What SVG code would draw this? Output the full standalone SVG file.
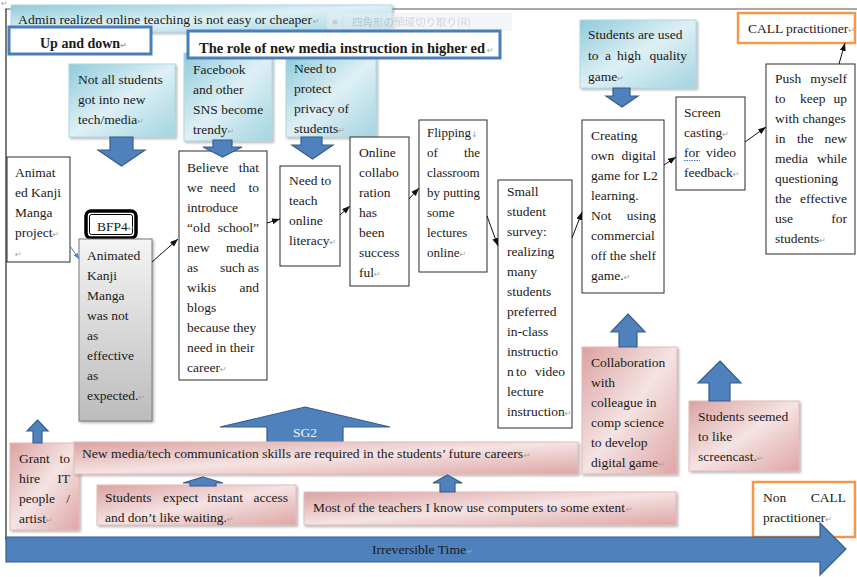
<svg xmlns="http://www.w3.org/2000/svg" width="857" height="577" viewBox="0 0 857 577">
  <defs>
    <linearGradient id="gBlue" x1="0" y1="0" x2="1" y2="1">
      <stop offset="0" stop-color="#8fcbdb"/>
      <stop offset="0.5" stop-color="#def0f5"/>
      <stop offset="1" stop-color="#a3d4e1"/>
    </linearGradient>
    <linearGradient id="gPink" x1="0" y1="0" x2="1" y2="1">
      <stop offset="0" stop-color="#dba2a1"/>
      <stop offset="0.5" stop-color="#f5e3e3"/>
      <stop offset="1" stop-color="#dea6a5"/>
    </linearGradient>
    <linearGradient id="gGray" x1="0" y1="0" x2="0" y2="1">
      <stop offset="0" stop-color="#f4f4f4"/>
      <stop offset="1" stop-color="#bcbcbc"/>
    </linearGradient>
    <filter id="shadow" x="-10%" y="-10%" width="130%" height="130%">
      <feDropShadow dx="1.5" dy="1.5" stdDeviation="1" flood-color="#777" flood-opacity="0.55"/>
    </filter>
    <marker id="ah" viewBox="0 0 8 6" refX="8" refY="3" markerWidth="8" markerHeight="6" markerUnits="userSpaceOnUse" orient="auto">
      <path d="M0,0 L8,3 L0,6 z" fill="#111"/>
    </marker>
    <marker id="ahBlue" viewBox="0 0 8 6" refX="8" refY="3" markerWidth="6" markerHeight="5" markerUnits="userSpaceOnUse" orient="auto">
      <path d="M0,0 L8,3 L0,6 z" fill="#4f81bd"/>
    </marker>
  </defs>
  <style>
    .t { font-family: "Liberation Serif", "DejaVu Serif", serif; font-size: 13.5px; fill: #1a1a1a; }
    .s { font-size: 13px; }
    .b { font-weight: bold; font-size: 14px; }
    .e { text-anchor: end; }
    .pm { font-family: "DejaVu Sans", sans-serif; font-size: 8px; fill: #a0a0a0; }
    .box { fill: #fff; stroke: #2b2b2b; stroke-width: 1; }
    .blue { fill: url(#gBlue); stroke: #b0dae6; stroke-width: 1; filter: url(#shadow); }
    .pink { fill: url(#gPink); stroke: #e8bcbb; stroke-width: 1; filter: url(#shadow); }
    .gray { fill: url(#gGray); stroke: #7a7a7a; stroke-width: 1; filter: url(#shadow); }
    .head { fill: #fff; stroke: #4a7ebb; stroke-width: 3; }
    .orange { fill: #fff; stroke: #f79646; stroke-width: 2.5; }
    .arr { fill: #4f81bd; stroke: #385d8a; stroke-width: 1.2; }
    .con { stroke: #111; stroke-width: 1; fill: none; marker-end: url(#ah); }
  </style>

  <!-- page frame -->
  <g id="frame">
    <line x1="5" y1="9" x2="857" y2="9" stroke="#555" stroke-width="1"/>
    <line x1="6" y1="9" x2="6" y2="540" stroke="#222" stroke-width="1.2"/>
    <text x="1" y="6" class="pm">↵</text>
  </g>

  <!-- banner across the top -->
  <g id="admin">
    <rect x="11" y="5" width="381" height="27" class="blue"/>
    <text x="18" y="24" class="t s" textLength="294" lengthAdjust="spacingAndGlyphs">Admin realized online teaching is not easy or cheaper</text>
    <text x="313" y="24" class="pm">↵</text>
  </g>

  <!-- faint menu ghost -->
  <g id="menu-ghost" opacity="0.55">
    <rect x="327" y="13" width="185" height="18" fill="#eaf0f5"/>
    <line x1="343" y1="14" x2="343" y2="30" stroke="#d8dee4"/>
    <circle cx="335" cy="22" r="2.5" fill="#b9c1c9"/>
    <text x="352" y="26" font-family="'Noto Sans CJK JP', sans-serif" font-size="10.5" fill="#aab2ba">四角形の領域切り取り(R)</text>
  </g>

  <g id="up-and-down">
    <rect x="9" y="27" width="142" height="27" class="head"/>
    <text x="40" y="48" class="t b">Up and down<tspan class="pm">↵</tspan></text>
  </g>

  <!-- light blue cause boxes -->
  <g id="not-all-students">
    <rect x="69" y="64" width="106" height="73" class="blue"/>
    <text x="78" y="84" class="t">Not all students</text>
    <text x="78" y="104" class="t">got into new</text>
    <text x="78" y="124" class="t">tech/media<tspan class="pm">↵</tspan></text>
  </g>

  <g id="facebook">
    <rect x="184" y="53" width="88" height="88" class="blue"/>
    <text x="193" y="74" class="t">Facebook</text>
    <text x="193" y="94" class="t">and other</text>
    <text x="193" y="114" class="t">SNS become</text>
    <text x="193" y="134" class="t">trendy<tspan class="pm">↵</tspan></text>
  </g>

  <g id="privacy">
    <rect x="286" y="57" width="90" height="80" class="blue"/>
    <text x="294" y="73" class="t">Need to</text>
    <text x="294" y="93" class="t">protect</text>
    <text x="294" y="113" class="t">privacy of</text>
    <text x="294" y="133" class="t">students<tspan class="pm">↵</tspan></text>
  </g>

  <g id="role-header">
    <rect x="188" y="31" width="312" height="27" class="head"/>
    <text x="199" y="53" class="t b" textLength="286" lengthAdjust="spacingAndGlyphs">The role of new media instruction in higher ed</text>
    <text x="487" y="53" class="pm">↵</text>
  </g>

  <g id="high-quality-game">
    <rect x="580" y="20" width="116" height="68" class="blue"/>
    <text x="588" y="39" class="t">Students are used</text>
    <text x="588" y="60" class="t">to</text>
    <text x="605" y="60" class="t">a</text>
    <text x="617" y="60" class="t">high</text>
    <text x="687" y="60" class="t e">quality</text>
    <text x="588" y="81" class="t">game<tspan class="pm">↵</tspan></text>
  </g>

  <g id="call-practitioner">
    <rect x="738" y="13" width="117" height="30" class="orange"/>
    <text x="748" y="33" class="t">CALL practitioner<tspan class="pm">↵</tspan></text>
  </g>

  <!-- timeline of practice boxes -->
  <g id="kanji-project">
    <rect x="7" y="157" width="63" height="105" class="box"/>
    <text x="15" y="177" class="t">Animat</text>
    <text x="15" y="197" class="t">ed Kanji</text>
    <text x="15" y="217" class="t">Manga</text>
    <text x="15" y="237" class="t">project<tspan class="pm">↵</tspan></text>
    <text x="15" y="257" class="pm">↵</text>
  </g>

  <g id="bfp4">
    <rect x="86" y="211" width="50" height="27" rx="5" fill="#fff" stroke="#000" stroke-width="3.5"/>
    <rect x="89.5" y="214.5" width="43" height="20" rx="2" fill="none" stroke="#000" stroke-width="1"/>
    <text x="97" y="231" class="t">BFP4<tspan class="pm">↵</tspan></text>
  </g>

  <g id="kanji-result">
    <rect x="79" y="239" width="73" height="182" class="gray"/>
    <text x="87" y="260" class="t">Animated</text>
    <text x="87" y="280" class="t">Kanji</text>
    <text x="87" y="300" class="t">Manga</text>
    <text x="87" y="320" class="t">was not</text>
    <text x="87" y="340" class="t">as</text>
    <text x="87" y="360" class="t">effective</text>
    <text x="87" y="380" class="t">as</text>
    <text x="87" y="400" class="t">expected.<tspan class="pm">↵</tspan></text>
  </g>

  <g id="old-school-media">
    <rect x="179" y="151" width="88" height="229" class="box"/>
    <text x="187" y="172" class="t">Believe</text>
    <text x="259" y="172" class="t e">that</text>
    <text x="187" y="192" class="t">we</text>
    <text x="210" y="192" class="t">need</text>
    <text x="259" y="192" class="t e">to</text>
    <text x="187" y="212" class="t">introduce</text>
    <text x="187" y="232" class="t">“old</text>
    <text x="259" y="232" class="t e">school”</text>
    <text x="187" y="252" class="t">new</text>
    <text x="259" y="252" class="t e">media</text>
    <text x="187" y="272" class="t">as</text>
    <text x="220" y="272" class="t">such</text>
    <text x="259" y="272" class="t e">as</text>
    <text x="187" y="292" class="t">wikis</text>
    <text x="259" y="292" class="t e">and</text>
    <text x="187" y="312" class="t">blogs</text>
    <text x="187" y="332" class="t">because they</text>
    <text x="187" y="352" class="t">need in their</text>
    <text x="187" y="372" class="t">career<tspan class="pm">↵</tspan></text>
  </g>

  <g id="online-literacy">
    <rect x="280" y="166" width="60" height="100" class="box"/>
    <text x="289" y="185" class="t">Need to</text>
    <text x="289" y="205" class="t">teach</text>
    <text x="289" y="225" class="t">online</text>
    <text x="289" y="245" class="t">literacy<tspan class="pm">↵</tspan></text>
  </g>

  <g id="online-collaboration">
    <rect x="350" y="137" width="59" height="149" class="box"/>
    <text x="359" y="157" class="t">Online</text>
    <text x="359" y="177" class="t">collabo</text>
    <text x="359" y="197" class="t">ration</text>
    <text x="359" y="217" class="t">has</text>
    <text x="359" y="237" class="t">been</text>
    <text x="359" y="257" class="t">success</text>
    <text x="359" y="277" class="t">ful<tspan class="pm">↵</tspan></text>
  </g>

  <g id="flipping">
    <rect x="419" y="120" width="68" height="152" class="box"/>
    <text x="427" y="137" class="t s">Flipping<tspan class="pm">↓</tspan></text>
    <text x="427" y="157" class="t s">of</text>
    <text x="480" y="157" class="t s e">the</text>
    <text x="427" y="177" class="t s">classroom</text>
    <text x="427" y="197" class="t s">by putting</text>
    <text x="427" y="217" class="t s">some</text>
    <text x="427" y="237" class="t s">lectures</text>
    <text x="427" y="257" class="t s">online<tspan class="pm">↵</tspan></text>
  </g>

  <g id="student-survey">
    <rect x="498" y="180" width="74" height="248" class="box"/>
    <text x="507" y="196" class="t">Small</text>
    <text x="507" y="216" class="t">student</text>
    <text x="507" y="236" class="t">survey:</text>
    <text x="507" y="256" class="t">realizing</text>
    <text x="507" y="276" class="t">many</text>
    <text x="507" y="296" class="t">students</text>
    <text x="507" y="316" class="t">preferred</text>
    <text x="507" y="336" class="t">in-class</text>
    <text x="507" y="356" class="t">instructio</text>
    <text x="507" y="376" class="t">n</text>
    <text x="516" y="376" class="t">to</text>
    <text x="565" y="376" class="t e">video</text>
    <text x="507" y="396" class="t">lecture</text>
    <text x="507" y="416" class="t">instruction<tspan class="pm">↵</tspan></text>
  </g>

  <g id="own-digital-game">
    <rect x="582" y="120" width="82" height="173" class="box"/>
    <text x="591" y="140" class="t">Creating</text>
    <text x="591" y="160" class="t">own</text>
    <text x="656" y="160" class="t e">digital</text>
    <text x="591" y="180" class="t">game for L2</text>
    <text x="591" y="200" class="t">learning.</text>
    <text x="591" y="220" class="t">Not</text>
    <text x="656" y="220" class="t e">using</text>
    <text x="591" y="240" class="t">commercial</text>
    <text x="591" y="260" class="t">off the shelf</text>
    <text x="591" y="280" class="t">game.<tspan class="pm">↵</tspan></text>
  </g>

  <g id="screen-casting">
    <rect x="676" y="97" width="69" height="93" class="box"/>
    <text x="684" y="117" class="t">Screen</text>
    <text x="684" y="137" class="t">casting<tspan class="pm">↵</tspan></text>
    <text x="684" y="157" class="t">for</text>
    <text x="736" y="157" class="t e">video</text>
    <path d="M684,160.5 L700,160.5" stroke="#4f6fd0" stroke-width="1" stroke-dasharray="1.5 1"/>
    <text x="684" y="177" class="t">feedback<tspan class="pm">↵</tspan></text>
  </g>

  <g id="keep-up">
    <rect x="766" y="64" width="89" height="190" class="box"/>
    <text x="775" y="83" class="t">Push</text>
    <text x="847" y="83" class="t e">myself</text>
    <text x="775" y="103" class="t">to</text>
    <text x="800" y="103" class="t">keep</text>
    <text x="847" y="103" class="t e">up</text>
    <text x="775" y="123" class="t">with changes</text>
    <text x="775" y="143" class="t">in</text>
    <text x="797" y="143" class="t">the</text>
    <text x="847" y="143" class="t e">new</text>
    <text x="775" y="163" class="t">media</text>
    <text x="847" y="163" class="t e">while</text>
    <text x="775" y="183" class="t">questioning</text>
    <text x="775" y="203" class="t">the</text>
    <text x="847" y="203" class="t e">effective</text>
    <text x="775" y="223" class="t">use</text>
    <text x="847" y="223" class="t e">for</text>
    <text x="775" y="243" class="t">students<tspan class="pm">↵</tspan></text>
  </g>

  <!-- big SG2 arrow sits behind the shared-belief bar -->
  <g id="sg2">
    <polygon points="305,407 390,427 343,427 343,444 267,444 267,427 220,427" class="arr"/>
    <text x="305" y="437" class="t" text-anchor="middle" style="fill:#f2f2f2">SG2</text>
  </g>

  <!-- pink context boxes -->
  <g id="collaboration">
    <rect x="582" y="347" width="95" height="127" class="pink"/>
    <text x="591" y="367" class="t">Collaboration</text>
    <text x="591" y="387" class="t">with</text>
    <text x="591" y="407" class="t">colleague in</text>
    <text x="591" y="427" class="t">comp science</text>
    <text x="591" y="447" class="t">to develop</text>
    <text x="591" y="467" class="t">digital game<tspan class="pm">↵</tspan></text>
  </g>

  <g id="screencast-liked">
    <rect x="689" y="401" width="110" height="70" class="pink"/>
    <text x="698" y="421" class="t">Students seemed</text>
    <text x="698" y="441" class="t">to like</text>
    <text x="698" y="461" class="t">screencast.<tspan class="pm">↵</tspan></text>
  </g>

  <g id="grant">
    <rect x="10" y="443" width="69" height="87" class="pink"/>
    <text x="19" y="463" class="t">Grant</text>
    <text x="70" y="463" class="t e">to</text>
    <text x="19" y="483" class="t">hire</text>
    <text x="70" y="483" class="t e">IT</text>
    <text x="19" y="503" class="t">people</text>
    <text x="70" y="503" class="t e">/</text>
    <text x="19" y="523" class="t">artist<tspan class="pm">↵</tspan></text>
  </g>

  <g id="future-careers">
    <rect x="74" y="442" width="504" height="32" class="pink"/>
    <text x="82" y="458" class="t" textLength="441" lengthAdjust="spacingAndGlyphs">New media/tech communication skills are required in the students’ future careers</text>
    <text x="524" y="458" class="pm">↵</text>
  </g>

  <g id="instant-access">
    <rect x="97" y="485" width="199" height="40" class="pink"/>
    <text x="105" y="502" class="t">Students</text>
    <text x="163" y="502" class="t">expect</text>
    <text x="207" y="502" class="t">instant</text>
    <text x="288" y="502" class="t e">access</text>
    <text x="105" y="522" class="t">and don’t like waiting.<tspan class="pm">↵</tspan></text>
  </g>

  <g id="teachers-computers">
    <rect x="304" y="492" width="372" height="33" class="pink"/>
    <text x="313" y="512" class="t" textLength="312" lengthAdjust="spacingAndGlyphs">Most of the teachers I know use computers to some extent</text>
    <text x="626" y="512" class="pm">↵</text>
  </g>

  <g id="non-call-practitioner">
    <rect x="753" y="482" width="102" height="55" class="orange"/>
    <text x="763" y="502" class="t">Non</text>
    <text x="846" y="502" class="t e">CALL</text>
    <text x="763" y="522" class="t">practitioner<tspan class="pm">↵</tspan></text>
  </g>

  <!-- block arrows -->
  <g id="block-arrows">
    <polygon points="110,137 133,137 133,150 145,150 121.5,166 98,150 110,150" class="arr"/>
    <polygon points="213,140 232,140 232,147 242,147 222.5,157 203,147 213,147" class="arr"/>
    <polygon points="301,137 322,137 322,145 333,145 312.5,159 292,145 301,145" class="arr"/>
    <polygon points="613,88 630,88 630,96 638,96 622,107 606,96 613,96" class="arr"/>
    <polygon points="37.5,420 48,431 42,431 42,443 33,443 33,431 27,431" class="arr"/>
    <polygon points="203,477 223,483 216,483 216,486 190,486 190,483 183,483" class="arr"/>
    <polygon points="447.5,475 462,483 455,483 455,492 440,492 440,483 433,483" class="arr"/>
    <polygon points="628,314 645,332 637,332 637,347 619,347 619,332 611,332" class="arr"/>
    <polygon points="720,361 741,383 730,383 730,401 709,401 709,383 698,383" class="arr"/>
  </g>

  <!-- time axis -->
  <g id="irreversible-time">
    <polygon points="6,537 820,537 820,523 846,549 820,575 820,562 6,562" class="arr"/>
    <text x="372" y="554" class="t" textLength="94" lengthAdjust="spacingAndGlyphs">Irreversible Time</text>
    <text x="467" y="554" class="pm" style="fill:#8aa6cf">↵</text>
  </g>

  <!-- connectors between practice boxes -->
  <g id="connectors">
    <line x1="70" y1="246" x2="79" y2="259" stroke="#4f81bd" stroke-width="1" marker-end="url(#ahBlue)"/>
    <line x1="152" y1="262" x2="178" y2="239" class="con"/>
    <line x1="267" y1="223" x2="280" y2="219" class="con"/>
    <line x1="340" y1="215" x2="350" y2="206" class="con"/>
    <line x1="409" y1="199" x2="419" y2="188" class="con"/>
    <line x1="487" y1="216" x2="498" y2="246" class="con"/>
    <line x1="572" y1="238" x2="582" y2="212" class="con"/>
    <line x1="664" y1="165" x2="676" y2="157" class="con"/>
    <line x1="745" y1="142" x2="766" y2="127" class="con"/>
    <line x1="839" y1="64" x2="845" y2="43" class="con"/>
  </g>
</svg>
